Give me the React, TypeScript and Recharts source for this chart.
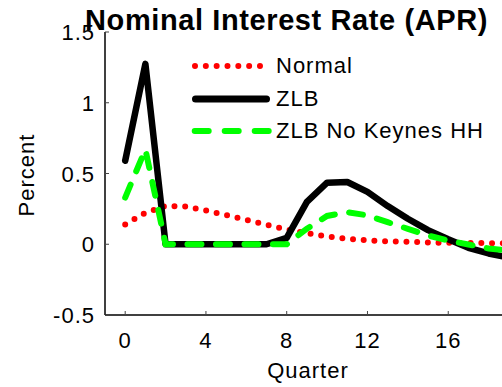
import React, { FC } from 'react';
import { LineChart, Line, XAxis, YAxis, Legend } from 'recharts';

const quarters = [0, 1, 2, 3, 4, 5, 6, 7, 8, 9, 10, 11, 12, 13, 14, 15, 16, 17, 18, 19, 20];
const normal = [0.14, 0.222, 0.27, 0.267, 0.238, 0.207, 0.172, 0.137, 0.105, 0.078, 0.055, 0.038, 0.028, 0.021, 0.017, 0.013, 0.01, 0.008, 0.008, 0.007, 0.006];
const zlb = [0.59, 1.275, 0, 0, 0, 0, 0, 0, 0.045, 0.3, 0.435, 0.44, 0.37, 0.27, 0.18, 0.1, 0.035, -0.025, -0.065, -0.095, -0.115];
const noKeynes = [0.33, 0.67, 0, 0, 0, 0, 0, 0, 0, 0.11, 0.2, 0.227, 0.204, 0.156, 0.109, 0.062, 0.026, -0.002, -0.03, -0.045, -0.055];
// the 20 tick sits past the right edge of the window, so only these show
const xTicks = [0, 4, 8, 12, 16];
const yTicks = [-0.5, 0, 0.5, 1, 1.5];

const data = quarters.map((q, i) => ({ q, normal: normal[i], zlb: zlb[i], noKeynes: noKeynes[i] }));

const FONT = '"Liberation Sans", Arial, sans-serif';

const YTick = (props: any) => {
  const { x, y, payload } = props;
  return (
    <g>
      <line x1={x + 10} x2={x + 14} y1={y} y2={y} stroke="#444" strokeWidth={1} />
      <text x={x} y={y} dy={8} textAnchor="end" fontFamily={FONT} fontSize={22} letterSpacing={1} fill="#000">
        {payload.value}
      </text>
    </g>
  );
};

const XTick = (props: any) => {
  const { x, y, payload } = props;
  return (
    <g>
      <line x1={x} x2={x} y1={y} y2={y - 4} stroke="#444" strokeWidth={1} />
      <text x={x} y={y + 33} textAnchor="middle" fontFamily={FONT} fontSize={22} letterSpacing={1} fill="#000">
        {payload.value}
      </text>
    </g>
  );
};

const TopTick = (props: any) => {
  const { x, y } = props;
  return <line x1={x} x2={x} y1={y} y2={y + 4} stroke="#444" strokeWidth={1} />;
};

const legendItems = [
  { name: 'Normal', color: '#ff0000', width: 6, dash: '0 10.83', x1: 7, x2: 72 },
  { name: 'ZLB', color: '#000000', width: 7, dash: undefined, x1: 7.5, x2: 78.5 },
  { name: 'ZLB No Keynes HH', color: '#00ff00', width: 6, dash: '14 16', x1: 6.7, x2: 80.7 },
];

const LegendBox = () => (
  <div>
    {legendItems.map((it) => (
      <div key={it.name} style={{ height: 32.5, display: 'flex', alignItems: 'center' }}>
        <svg width={88} height={12}>
          <line x1={it.x1} x2={it.x2} y1={6} y2={6} stroke={it.color} strokeWidth={it.width}
            strokeDasharray={it.dash} strokeLinecap="round" />
        </svg>
        <span style={{ fontFamily: FONT, fontSize: 22, letterSpacing: 1, color: '#000', whiteSpace: 'nowrap' }}>{it.name}</span>
      </div>
    ))}
  </div>
);

const App: FC = () => {
  return (
    <div style={{ position: 'fixed', left: 0, top: 0, width: 502, height: 387, overflow: 'hidden', background: '#fff' }}>
      <LineChart width={545} height={387} data={data} margin={{ top: 32, right: 16, left: 0, bottom: 0 }}>
        <XAxis dataKey="q" type="number" domain={[-1, 20]} ticks={xTicks} tickSize={0} tickMargin={0}
          tick={<XTick />} height={72} stroke="#000" strokeWidth={1.5} interval={0} />
        <XAxis xAxisId="top" orientation="top" dataKey="q" type="number" domain={[-1, 20]} ticks={xTicks}
          tickSize={0} tickMargin={0} tick={<TopTick />} height={0} stroke="#000" strokeWidth={1.5} interval={0} />
        <YAxis type="number" domain={[-0.5, 1.5]} ticks={yTicks} tickSize={0} tickMargin={10}
          tick={<YTick />} width={105} stroke="#000" strokeWidth={1.5} interval={0} allowDataOverflow />
        <Legend layout="vertical" align="center" verticalAlign="middle" content={<LegendBox />}
          wrapperStyle={{ left: 188, top: 50, width: 300 }} />
        <Line dataKey="normal" name="Normal" stroke="#ff0000" strokeWidth={6} strokeDasharray="0 10.7"
          strokeLinecap="round" dot={false} isAnimationActive={false} />
        <Line dataKey="zlb" name="ZLB" stroke="#000000" strokeWidth={6.5} strokeLinejoin="round"
          strokeLinecap="round" dot={false} isAnimationActive={false} />
        <Line dataKey="noKeynes" name="ZLB No Keynes HH" stroke="#00ff00" strokeWidth={6} strokeDasharray="14 14.5"
          strokeLinecap="round" dot={false} isAnimationActive={false} />
        <text x={286.5} y={29.5} textAnchor="middle" fontFamily={FONT} fontWeight="bold" fontSize={29}
          letterSpacing={0.6} fill="#000">Nominal Interest Rate (APR)</text>
        <text x={34} y={175} transform="rotate(-90 34 175)" textAnchor="middle" fontFamily={FONT} fontSize={22}
          letterSpacing={1} fill="#000">Percent</text>
        <text x={308} y={377.5} textAnchor="middle" fontFamily={FONT} fontSize={22} letterSpacing={1}
          fill="#000">Quarter</text>
      </LineChart>
    </div>
  );
};

export default App;
